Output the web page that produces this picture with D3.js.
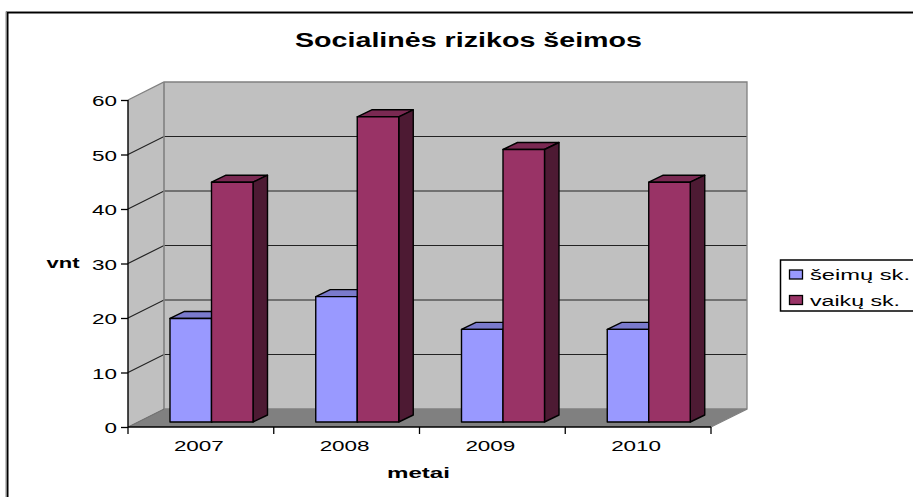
<!DOCTYPE html>
<html><head><meta charset="utf-8">
<script src="https://cdn.jsdelivr.net/npm/d3@7"></script>
<style>html,body{margin:0;padding:0;background:#fff}svg{display:block}text{font-family:"Liberation Sans",Arial,sans-serif;fill:#000}</style>
</head><body><svg id="c" width="913" height="497"></svg>
<script>
const categories = ["2007","2008","2009","2010"];
const seriesNames = ["šeimų sk.","vaikų sk."];
const seimuValues = [19,23,17,17];
const vaikuValues = [44,56,50,44];
const yTicks = [0,10,20,30,40,50,60];
const titleText = "Socialinės rizikos šeimos";
const yTitle = "vnt", xTitle = "metai";

const svg = d3.select("#c");
const depthX = 36, depthY = -18, barDX = 14.5, barDY = -7, barShiftY = -5;
const y = d3.scaleLinear().domain([0,60]).range([427,100]);
const x0 = d3.scaleBand().domain(categories).range([128,711]);
const x1 = d3.scaleBand().domain(seriesNames).range([42,125]);
const poly = (pts,fill,stroke,sw)=>svg.append("path").attr("d","M"+pts.map(p=>p.join(",")).join("L")+"Z")
  .attr("fill",fill).attr("stroke",stroke||"none").attr("stroke-width",sw||0).attr("stroke-linejoin","round");
const stretched = (sel,len)=>sel.attr("textLength",len).attr("lengthAdjust","spacingAndGlyphs");

// frame
svg.append("path").attr("d","M7.5,520V12.5H913").attr("fill","none").attr("stroke","#000").attr("stroke-width",2);
svg.append("path").attr("d","M6,520V11.5H913").attr("fill","none").attr("stroke","#888").attr("stroke-width",1);

const [xl,xr] = [128,711], y0=y(0), yT=y(60);
// back wall, side wall, floor
poly([[xl+depthX,y0+depthY],[xr+depthX,y0+depthY],[xr+depthX,yT+depthY],[xl+depthX,yT+depthY]],"#c0c0c0");
poly([[xl,y0],[xl+depthX,y0+depthY],[xl+depthX,yT+depthY],[xl,yT]],"#c0c0c0");
poly([[xl,y0],[xr,y0],[xr+depthX,y0+depthY],[xl+depthX,y0+depthY]],"#808080");

// gridlines
yTicks.filter(t=>t>0&&t<60).forEach(t=>{
  svg.append("path").attr("d",`M${xl},${y(t)}L${xl+depthX},${y(t)+depthY}H${xr+depthX}`).attr("fill","none").attr("stroke","#222").attr("stroke-width",1.2);
});
// wall outlines
svg.append("path").attr("d",`M${xl},${yT}L${xl+depthX},${yT+depthY}H${xr+depthX}V${y0+depthY}L${xr},${y0}`).attr("fill","none").attr("stroke","#808080").attr("stroke-width",1.3);
svg.append("path").attr("d",`M${xl+depthX},${yT+depthY}V${y0+depthY}H${xr+depthX}`).attr("fill","none").attr("stroke","#808080").attr("stroke-width",1.6);
svg.append("path").attr("d",`M${xl},${y0}L${xl+depthX},${y0+depthY}`).attr("fill","none").attr("stroke","#666").attr("stroke-width",1);

// bars
const colors = [["#9999ff","#7a7acc","#4d4d80"],["#993366","#7a2952","#4d1a33"]];
categories.forEach((c,i)=>{
  [seimuValues,vaikuValues].forEach((vals,s)=>{
    const a = x0(c)+x1(seriesNames[s]), b = a+x1.bandwidth();
    const top = y(vals[i])+barShiftY, bot = y0+barShiftY;
    const [f,t,d] = colors[s];
    poly([[a,top],[a+barDX,top+barDY],[b+barDX,top+barDY],[b,top]],t,"#000",1.4);
    poly([[b,top],[b+barDX,top+barDY],[b+barDX,bot+barDY],[b,bot]],d,"#000",1.4);
    poly([[a,top],[b,top],[b,bot],[a,bot]],f,"#000",1.4);
  });
});

// axes
const gy = svg.append("g").attr("transform","translate(128,0)").call(d3.axisLeft(y).tickValues(yTicks).tickSize(7).tickPadding(4));
const gx = svg.append("g").attr("transform","translate(0,427)").call(d3.axisBottom(x0).tickSize(0));
d3.range(categories.length+1).forEach(i=>{
  const px = 128+i*x0.step();
  gx.append("line").attr("x1",px).attr("x2",px).attr("y1",0).attr("y2",7);
});
[gy,gx].forEach(g=>{
  g.attr("font-family",null).attr("font-size",null);
  g.selectAll("path.domain").attr("stroke","#000").attr("stroke-width",1.4);
  g.selectAll("line").attr("stroke","#000").attr("stroke-width",1.3);
  g.selectAll("text").attr("font-size",15.5).attr("fill","#000");
});
gy.select("path.domain").attr("d",`M0,${yT}V${y0}`);
gx.select("path.domain").attr("d",`M128,0H711`);
stretched(gy.selectAll("text").attr("x",-11).attr("dy","5.5px"),function(){return 0;});
gy.selectAll("text").attr("textLength",d=>d===0?12.5:25);
stretched(gx.selectAll("text").attr("y",24).attr("dy",0).attr("dx",-2),50);

// titles
stretched(svg.append("text").attr("x",468.5).attr("y",46.5).attr("text-anchor","middle").attr("font-size",20).attr("font-weight","bold").text(titleText),347);
stretched(svg.append("text").attr("x",63).attr("y",268).attr("text-anchor","middle").attr("font-size",14.5).attr("font-weight","bold").text(yTitle),33);
stretched(svg.append("text").attr("x",418.5).attr("y",477.5).attr("text-anchor","middle").attr("font-size",14.5).attr("font-weight","bold").text(xTitle),63);

// legend
const legendWidths = [100,90];
svg.append("rect").attr("x",780.5).attr("y",260).attr("width",140).attr("height",51).attr("fill","#fff").attr("stroke","#000").attr("stroke-width",1.5);
seriesNames.forEach((n,i)=>{
  const ly = 274.5+i*25.5;
  svg.append("rect").attr("x",789.5).attr("y",ly-4.5).attr("width",13).attr("height",9).attr("fill",colors[i][0]).attr("stroke","#000").attr("stroke-width",1.3);
  stretched(svg.append("text").attr("x",810).attr("y",ly+5.5).attr("font-size",15.5).text(n),legendWidths[i]);
});
</script></body></html>
